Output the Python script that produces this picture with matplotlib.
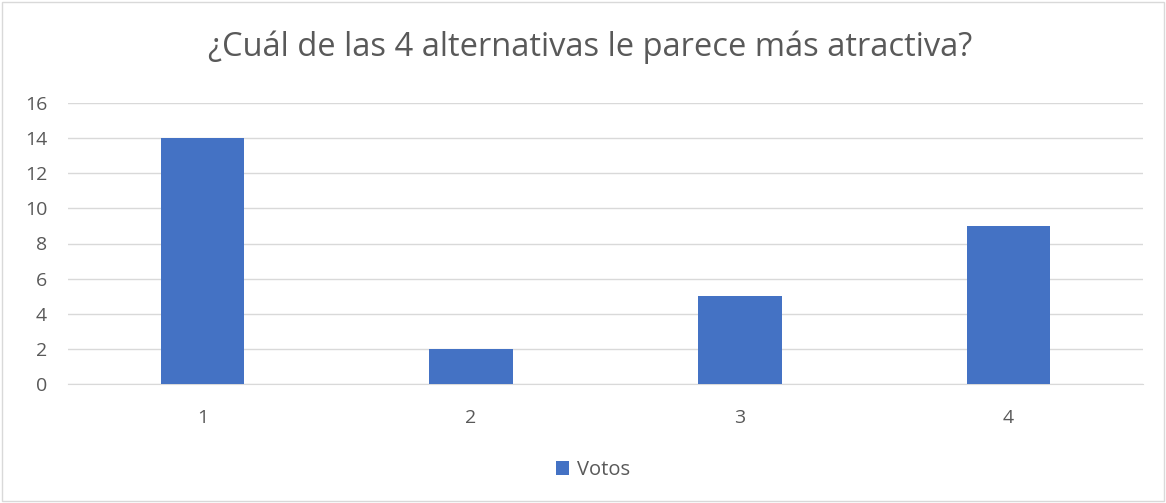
import matplotlib.pyplot as plt

# data
categorias = ["1", "2", "3", "4"]
votos = [14, 2, 5, 9]
y_ticks = [0, 2, 4, 6, 8, 10, 12, 14, 16]

titulo = "¿Cuál de las 4 alternativas le parece más atractiva?"
serie = "Votos"


def main():
    plt.rcParams['font.family'] = ['Open Sans', 'DejaVu Sans']
    texto = "#595959"

    fig = plt.figure(figsize=(11.66, 5.03), dpi=100)
    ax = fig.add_axes([68 / 1166, 1 - 384 / 503, (1143 - 68) / 1166, (384 - 103) / 503])

    x = list(range(len(categorias)))
    ax.bar(x, votos, width=0.31, color="#4472C4", label=serie, zorder=3)

    ax.set_xlim(-0.5, len(categorias) - 0.5)
    ax.set_ylim(0, 16)
    ax.set_yticks(y_ticks)
    ax.set_xticks(x)
    ax.set_xticklabels(categorias)

    # grid and spines like Excel
    ax.grid(axis="y", color="#D9D9D9", linewidth=1, zorder=0)
    for s in ["top", "right", "left"]:
        ax.spines[s].set_visible(False)
    ax.spines["bottom"].set_color("#D9D9D9")
    ax.tick_params(axis="both", length=0, labelsize=14, labelcolor=texto)
    ax.tick_params(axis="x", pad=18)
    ax.tick_params(axis="y", pad=15)

    fig.text(0.506, 1 - 47 / 503, titulo, ha="center", va="center",
             fontsize=23.5, color=texto)

    leg = fig.legend(loc="center", bbox_to_anchor=(593 / 1166, 1 - 470 / 503),
                     frameon=False, fontsize=14.5, handlelength=0.65, handleheight=0.65,
                     handletextpad=0.35)
    for t in leg.get_texts():
        t.set_color(texto)

    # light border around the chart
    fig.patches.append(plt.Rectangle((0.002, 0.003), 0.996, 0.994, transform=fig.transFigure,
                                     fill=False, edgecolor="#D9D9D9", linewidth=1))

    fig.savefig("out.png", dpi=100)


if __name__ == "__main__":
    main()
